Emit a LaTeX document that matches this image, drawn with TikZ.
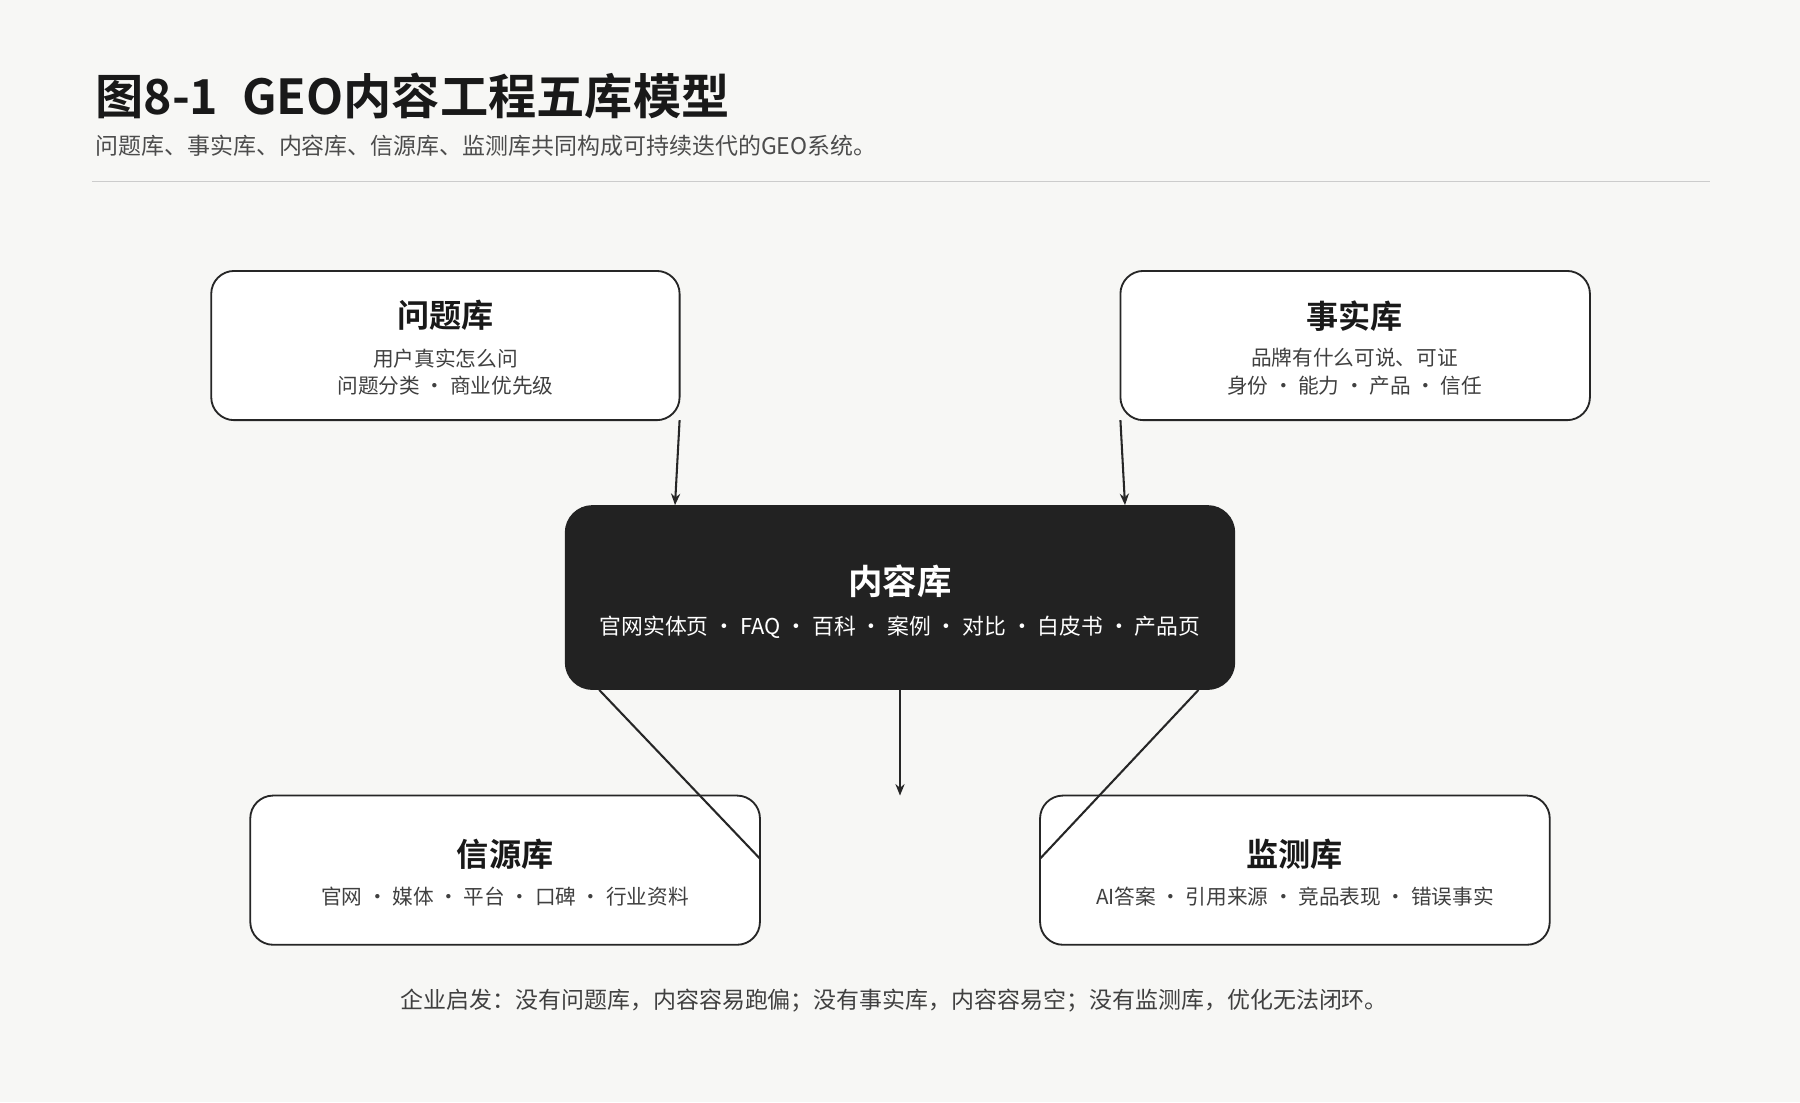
\documentclass[tikz,border=0pt]{standalone}
\usepackage{fontspec}
\setmainfont{Noto Sans CJK SC}
\newfontfamily\cjkb{Noto Sans CJK SC Bold}
\begin{document}
\begin{tikzpicture}[x=0.5pt,y=-0.5pt,
 box/.style={draw=black!85,line width=0.8pt,rounded corners=10pt,fill=white},
 ttl/.style={font=\cjkb\fontsize{14}{16}\selectfont,text=black!90},
 sub/.style={font=\fontsize{9}{12}\selectfont,text=black!75,align=center},
 con/.style={line width=0.9pt,draw=black!85},
 arr/.style={con,-{Stealth[length=5pt,width=4pt]}}]
\usetikzlibrary{arrows.meta}
\fill[fill={rgb,255:red,247;green,247;blue,245}] (0,0) rectangle (1568,960);
\useasboundingbox (0,0) rectangle (1568,960);
\node[anchor=west,font=\cjkb\fontsize{21}{24}\selectfont,text=black!90] (title) at (76,84) {图8-1\hspace{0.5em}GEO内容工程五库模型};
\node[anchor=west,font=\fontsize{10}{12}\selectfont,text=black!70] (subt) at (76,127) {问题库、事实库、内容库、信源库、监测库共同构成可持续迭代的GEO系统。};
\draw[black!20,line width=0.6pt] (80,158) -- (1490,158);

\draw[box] (184,236) rectangle (592,366);
\node[ttl] (q) at (388,275) {问题库};
\node[sub] (qs) at (388,324) {用户真实怎么问\\问题分类 · 商业优先级};
\draw[box] (976,236) rectangle (1385,366);
\node[ttl] (f) at (1180,275) {事实库};
\node[sub] (fs) at (1180,324) {品牌有什么可说、可证\\身份 · 能力 · 产品 · 信任};
\draw[fill={rgb,255:red,34;green,34;blue,34},rounded corners=12pt,draw=none] (492,440) rectangle (1076,601);
\node[font=\cjkb\fontsize{15}{18}\selectfont,text=white] (c) at (784,506) {内容库};
\node[font=\fontsize{9.5}{12}\selectfont,text=white] (cs) at (784,546) {官网实体页 · FAQ · 百科 · 案例 · 对比 · 白皮书 · 产品页};
\draw[box] (218,693) rectangle (662,823);
\node[ttl] (s) at (440,744) {信源库};
\node[sub] (ss) at (440,781) {官网 · 媒体 · 平台 · 口碑 · 行业资料};
\draw[box] (906,693) rectangle (1350,823);
\node[ttl] (m) at (1128,744) {监测库};
\node[sub] (ms) at (1128,781) {AI答案 · 引用来源 · 竞品表现 · 错误事实};

\coordinate (q1) at (592,366); \coordinate (q2) at (588,440);
\coordinate (f1) at (976,366); \coordinate (f2) at (980,440);
\coordinate (c1) at (522,601); \coordinate (s1) at (662,748);
\coordinate (c2) at (1044,601); \coordinate (m1) at (906,748);
\coordinate (c3) at (784,601); \coordinate (c4) at (784,693);
\draw[arr] (q1) -- (q2);
\draw[arr] (f1) -- (f2);
\draw[con] (c1) -- (s1);
\draw[con] (c2) -- (m1);
\draw[arr] (c3) -- (c4);

\node[font=\fontsize{10}{12}\selectfont,text=black!75] (note) at (779,872) {企业启发：没有问题库，内容容易跑偏；没有事实库，内容容易空；没有监测库，优化无法闭环。};
\end{tikzpicture}
\end{document}
